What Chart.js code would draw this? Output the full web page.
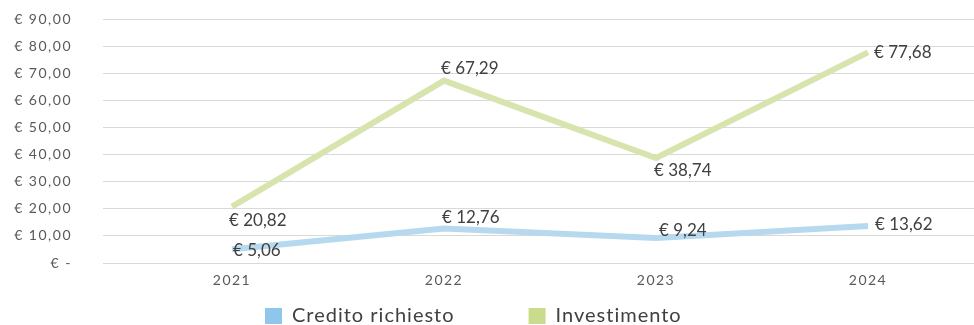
<!DOCTYPE html>
<html>
<head>
<meta charset="utf-8">
<script src="https://cdn.jsdelivr.net/npm/chart.js@4/dist/chart.umd.min.js"></script>
<style>
  html, body { margin: 0; padding: 0; background: #fff; }
  #wrap { width: 974px; height: 325px; }
</style>
</head>
<body>
<div id="wrap"><canvas id="chart" width="974" height="325"></canvas></div>
<script>
const years = ["2021", "2022", "2023", "2024"];
const credito = [5.06, 12.76, 9.24, 13.62];
const investimento = [20.82, 67.29, 38.74, 77.68];
const yTicks = [0, 10, 20, 30, 40, 50, 60, 70, 80, 90];

function euro(v) {
    if (v === 0) return "€ -";
    return "€ " + v.toFixed(2).replace(".", ",");
}

// where each value label sits, relative to its point: [dx, dy]
const labelOffsets = {
    credito: [[1, 1], [-2, -11], [3, -7], [7, -2]],
    investimento: [[-3, 14], [-3, -12], [-2, 13], [6, 0]]
};

const legendColors = ["#8fc6eb", "#c9dc8b"];

// wider tracking for axis text
const tracking = {
    id: "tracking",
    beforeDraw(chart) {
        chart.ctx.letterSpacing = "1.5px";
    }
};

const valueLabels = {
    id: "valueLabels",
    afterDatasetsDraw(chart) {
        const ctx = chart.ctx;
        ctx.save();
        ctx.letterSpacing = "0px";
        ctx.font = "17px Lato";
        ctx.fillStyle = "#404040";
        ctx.textAlign = "left";
        ctx.textBaseline = "middle";
        chart.data.datasets.forEach((ds, i) => {
            const offs = labelOffsets[ds.key];
            chart.getDatasetMeta(i).data.forEach((pt, j) => {
                ctx.fillText(euro(ds.data[j]), pt.x + offs[j][0], pt.y + offs[j][1]);
            });
        });
        ctx.restore();
    }
};

// legend row under the axis
const bottomLegend = {
    id: "bottomLegend",
    afterDraw(chart) {
        const ctx = chart.ctx;
        const y = chart.height - 9;
        let x = 265;
        ctx.save();
        ctx.letterSpacing = "1px";
        ctx.font = "20px Lato";
        ctx.textAlign = "left";
        ctx.textBaseline = "middle";
        chart.data.datasets.forEach((ds, i) => {
            ctx.fillStyle = legendColors[i];
            ctx.fillRect(x, y - 8, 17, 16);
            ctx.fillStyle = "#404040";
            ctx.fillText(ds.label, x + 27, y);
            x += 27 + ctx.measureText(ds.label).width + 74;
        });
        ctx.restore();
    }
};

new Chart(document.getElementById("chart").getContext("2d"), {
    type: "line",
    data: {
        labels: years,
        datasets: [{
            key: "credito",
            label: "Credito richiesto",
            data: credito,
            borderColor: "#b7d9f0",
            borderWidth: 6,
            pointRadius: 0,
            tension: 0
        }, {
            key: "investimento",
            label: "Investimento",
            data: investimento,
            borderColor: "#d8e4ae",
            borderWidth: 6,
            pointRadius: 0,
            tension: 0
        }]
    },
    options: {
        responsive: false,
        animation: false,
        layout: { padding: { top: 19, right: 0, bottom: 27, left: 0 } },
        scales: {
            x: {
                offset: true,
                afterFit(scale) {
                    scale.height = 35;
                    scale.paddingLeft = 0;
                    scale.paddingRight = 0;
                },
                grid: { display: false, drawTicks: false },
                border: { display: false },
                ticks: {
                    color: "#595959",
                    font: { family: "Lato", size: 14 },
                    padding: 9
                }
            },
            y: {
                min: 0,
                max: 90,
                afterFit(scale) {
                    scale.width = 126;
                    scale.paddingTop = 0;
                    scale.paddingBottom = 0;
                },
                afterBuildTicks(scale) { scale.ticks = yTicks.map(v => ({ value: v })); },
                grid: { color: "#d9d9d9", lineWidth: 1, tickLength: 23, tickColor: "#d9d9d9" },
                border: { display: false },
                ticks: {
                    color: "#595959",
                    font: { family: "Lato", size: 14 },
                    padding: 31,
                    callback: (v) => euro(v)
                }
            }
        },
        plugins: {
            legend: { display: false },
            tooltip: { enabled: false }
        }
    },
    plugins: [tracking, valueLabels, bottomLegend]
});
</script>
</body>
</html>
